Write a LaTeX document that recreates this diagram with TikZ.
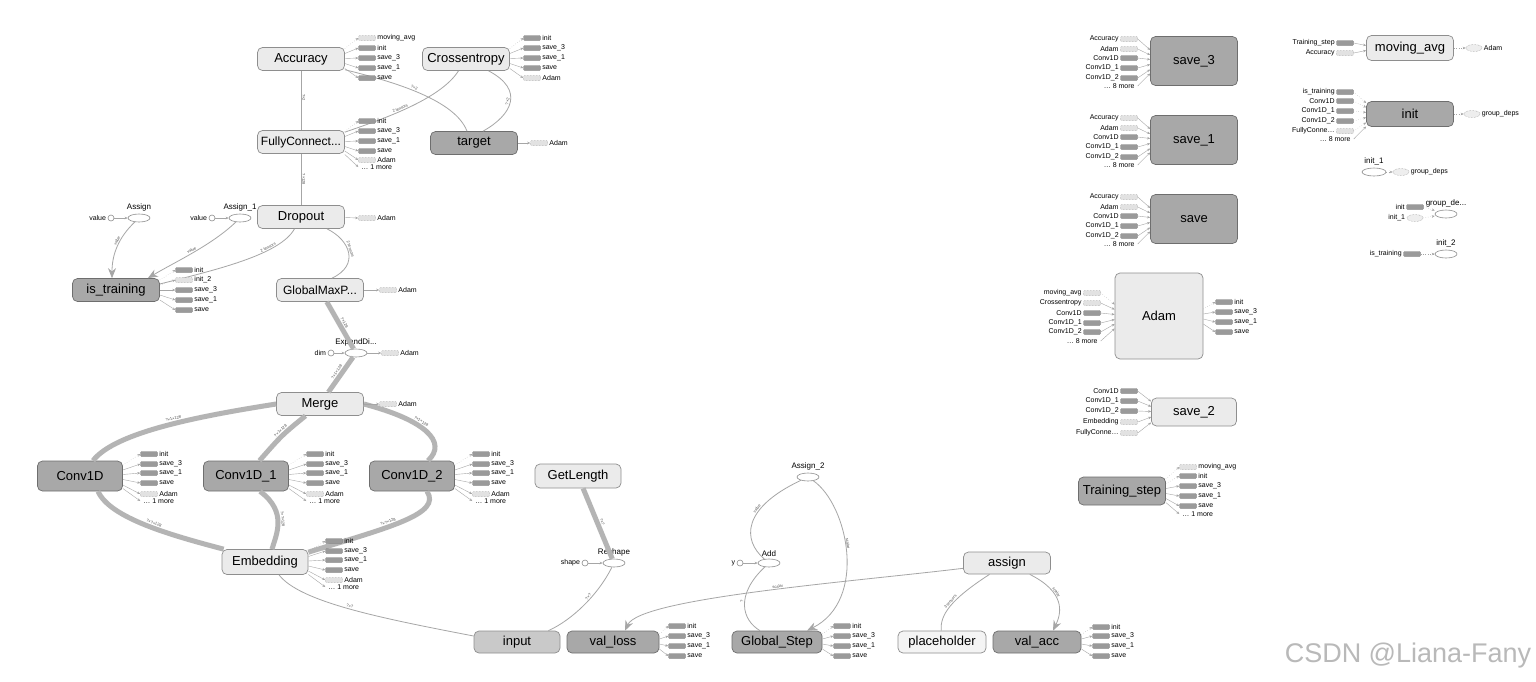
\documentclass[tikz,border=0pt]{standalone}
\usepackage{fontspec}
\setmainfont{Liberation Sans}
\usetikzlibrary{positioning,calc,arrows.meta,shapes.geometric}

\definecolor{lightFill}{HTML}{EBEBEB}
\definecolor{darkFill}{HTML}{A8A8A8}
\definecolor{midFill}{HTML}{C9C9C9}
\definecolor{paleFill}{HTML}{F4F4F4}
\definecolor{borderGrey}{HTML}{8E8E8E}
\definecolor{darkBorder}{HTML}{6E6E6E}
\definecolor{edgeGrey}{HTML}{A6A6A6}
\definecolor{thickGrey}{HTML}{B4B4B4}
\definecolor{auxGrey}{HTML}{9A9A9A}
\definecolor{auxPale}{HTML}{E2E2E2}

\tikzset{
  grp/.style={rectangle, rounded corners=5pt, draw=borderGrey, line width=0.7pt,
    minimum width=87pt, minimum height=23pt, inner sep=0pt,
    font=\fontsize{13}{15}\selectfont, fill=lightFill},
  grpDark/.style={grp, fill=darkFill, draw=darkBorder},
  grpMid/.style={grp, fill=midFill},
  grpPale/.style={grp, fill=paleFill},
  grpLong/.style={grp, font=\fontsize{12}{14}\selectfont},
  opNode/.style={ellipse, draw=borderGrey, fill=white, line width=0.6pt,
    minimum width=22pt, minimum height=8pt, inner sep=0pt},
  opText/.style={font=\fontsize{8}{9}\selectfont, inner sep=1pt},
  constNode/.style={circle, draw=borderGrey, fill=white, line width=0.6pt,
    inner sep=0pt, minimum size=6pt},
  auxBox/.style={rectangle, rounded corners=1pt, minimum width=17pt,
    minimum height=5pt, inner sep=0pt},
  auxFill/.style={auxBox, fill=auxGrey, draw=auxGrey!80!black, line width=0.3pt},
  auxDash/.style={auxBox, fill=auxPale, draw=gray!75, densely dotted, line width=0.5pt},
  auxEll/.style={ellipse, minimum width=16pt, minimum height=7pt, inner sep=0pt,
    fill=auxPale!60, draw=gray!75, densely dotted, line width=0.5pt},
  auxMore/.style={minimum width=1pt, minimum height=5pt, inner sep=0pt, xshift=-8pt},
  auxMoreL/.style={minimum width=1pt, minimum height=5pt, inner sep=0pt, xshift=8pt},
  auxText/.style={font=\fontsize{7}{8}\selectfont, inner sep=1.5pt},
  auxLine/.style={draw=gray!70, line width=0.4pt, -{Stealth[length=3pt,width=2.5pt]}},
  edgeLine/.style={draw=edgeGrey, line width=0.8pt},
  thickLine/.style={draw=thickGrey, line width=5pt},
  bigTip/.style={-{Stealth[length=10pt,width=8pt]}},
  eLbl/.style={font=\fontsize{4}{5}\selectfont, text=black!70, sloped, inner sep=1pt, above}
}

% items hanging off the right side of a node
\newcommand{\outItems}[3]{%
  \foreach \yPos/\itemStyle/\lineStyle/\itemText [count=\n] in {#3} {
    \node[\itemStyle] (#1-o\n) at (#2,\yPos) {};
    \node[auxText, anchor=west] (#1-ot\n) at (#1-o\n.east) {\itemText};
    \draw[auxLine, \lineStyle] ($(#1.east)!0.5!(#1.east |- #1-o\n)$) -- (#1-o\n.west);
  }%
}
% items feeding the left side of a node
\newcommand{\inItems}[3]{%
  \foreach \yPos/\itemStyle/\lineStyle/\itemText [count=\n] in {#3} {
    \node[\itemStyle] (#1-i\n) at (#2,\yPos) {};
    \node[auxText, anchor=east] (#1-it\n) at (#1-i\n.west) {\itemText};
    \draw[auxLine, \lineStyle] (#1-i\n.east) -- ($(#1.west)!0.5!(#1.west |- #1-i\n)$);
  }%
}

\begin{document}
\begin{tikzpicture}[x=1pt,y=-1pt]
  % Canvas
  \fill[white] (0,0) rectangle (1536,681);
  \useasboundingbox (0,0) rectangle (1536,681);

  % Main graph: group nodes
  \node[grp] (acc) at (301,59) {Accuracy};
  \node[grp] (xent) at (466,59) {Crossentropy};
  \node[grpLong] (fc) at (301,142) {FullyConnect...};
  \node[grpDark] (target) at (474,143) {target};
  \node[grp] (dropout) at (301,217) {Dropout};
  \node[grpDark] (istrain) at (116,290) {is\_training};
  \node[grpLong] (gmp) at (320,290) {GlobalMaxP...};
  \node[grp] (merge) at (320,404) {Merge};
  \node[grpDark, minimum width=85pt, minimum height=30pt] (conv) at (80,476) {Conv1D};
  \node[grpDark, minimum width=85pt, minimum height=30pt] (conva) at (246,476) {Conv1D\_1};
  \node[grpDark, minimum width=85pt, minimum height=30pt] (convb) at (412,476) {Conv1D\_2};
  \node[grp, minimum width=86pt, minimum height=25pt] (embed) at (265,562) {Embedding};
  \node[grp, minimum width=86pt, minimum height=24pt] (getlen) at (578,476) {GetLength};
  \node[grp, minimum height=22pt] (assign) at (1007,563) {assign};
  \node[grpMid, minimum width=86pt, minimum height=22pt] (input) at (517,642) {input};
  \node[grpDark, minimum width=92pt, minimum height=22pt] (valLoss) at (613,642) {val\_loss};
  \node[grpDark, minimum width=90pt, minimum height=22pt] (gStep) at (777,642) {Global\_Step};
  \node[grpPale, minimum width=88pt, minimum height=22pt] (placeholder) at (942,642) {placeholder};
  \node[grpDark, minimum width=88pt, minimum height=22pt] (valAcc) at (1037,642) {val\_acc};

  % Main graph: op nodes and constants
  \node[opNode] (asg) at (139,218) {};
  \node[opText, above=1pt] (asgT) at (asg.north) {Assign};
  \node[opNode] (asgOne) at (240,218) {};
  \node[opText, above=1pt] (asgOneT) at (asgOne.north) {Assign\_1};
  \node[opNode] (expand) at (356,353) {};
  \node[opText, above=1pt] (expandT) at (expand.north) {ExpandDi...};
  \node[opNode] (reshape) at (614,563) {};
  \node[opText, above=1pt] (reshapeT) at (reshape.north) {Reshape};
  \node[opNode] (add) at (769,563) {};
  \node[opText, above=1pt] (addT) at (add.north) {Add};
  \node[opNode] (assignTwo) at (808,477) {};
  \node[opText, above=1pt] (assignTwoT) at (assignTwo.north) {Assign\_2};

  \node[constNode] (asgC) at (111,218) {};
  \node[auxText, anchor=east] (asgCT) at (asgC.west) {value};
  \node[constNode] (asgOneC) at (212,218) {};
  \node[auxText, anchor=east] (asgOneCT) at (asgOneC.west) {value};
  \node[constNode] (dimC) at (331,353) {};
  \node[auxText, anchor=east] (dimCT) at (dimC.west) {dim};
  \node[constNode] (shapeC) at (585,563) {};
  \node[auxText, anchor=east] (shapeCT) at (shapeC.west) {shape};
  \node[constNode] (yC) at (740,563) {};
  \node[auxText, anchor=east] (yCT) at (yC.west) {y};
  \foreach \c/\o in {asgC/asg, asgOneC/asgOne, dimC/expand, shapeC/reshape, yC/add}
    \draw[auxLine] (\c) -- (\o);

  % Main graph: thin edges
  \draw[edgeLine] (acc) -- node[eLbl, pos=0.45] {?×2} (fc);
  \draw[edgeLine] (fc) -- node[eLbl] {?×128} (dropout);
  \draw[edgeLine] (acc) .. controls (395,82) and (455,100) .. node[eLbl, pos=0.45] {?×2} ($(target.north)+(-7,0)$);
  \draw[edgeLine] (xent) .. controls (440,100) and (380,120) .. node[eLbl, pos=0.55] {2 tensors} ($(fc.north east)+(0,2)$);
  \draw[edgeLine] (xent) .. controls (525,90) and (512,115) .. node[eLbl, pos=0.5] {?×2} ($(target.north)+(9,0)$);
  \draw[edgeLine, bigTip] (asg) .. controls (118,238) and (112,255) .. node[eLbl, pos=0.4] {value} ($(istrain.north)+(-4,0)$);
  \draw[edgeLine, bigTip] (asgOne) .. controls (212,245) and (175,262) .. node[eLbl, pos=0.5] {value} ($(istrain.north east)+(-12,0)$);
  \draw[edgeLine] (dropout) .. controls (280,255) and (215,270) .. node[eLbl, pos=0.3] {2 tensors} ($(istrain.east)+(0,-6)$);
  \draw[edgeLine] ($(dropout.south)+(26,0)$) .. controls (350,240) and (360,265) .. node[eLbl, pos=0.45] {2 tensors} ($(gmp.north)+(12,0)$);
  \draw[edgeLine] ($(embed.south)+(14,0)$) .. controls (300,602) and (380,618) .. node[eLbl, pos=0.5] {?×?} ($(input.west)+(0,-6)$);
  \draw[edgeLine] (reshape) .. controls (598,595) and (572,620) .. node[eLbl, pos=0.4] {?×?} ($(input.north east)+(-12,0)$);
  \draw[edgeLine] (assignTwo) .. controls (742,508) and (742,540) .. node[eLbl, pos=0.35] {value} (add);
  \draw[edgeLine, bigTip] (assignTwo) .. controls (848,505) and (868,600) .. node[eLbl, pos=0.45] {scalar} ($(gStep.north)+(30,0)$);
  \draw[edgeLine] (add) .. controls (735,595) and (742,620) .. node[eLbl, pos=0.45] {?} ($(gStep.north)+(-17,0)$);
  \draw[edgeLine, bigTip] (assign) .. controls (850,582) and (640,598) .. node[eLbl, pos=0.45] {scalar} ($(valLoss.north)+(12,0)$);
  \draw[edgeLine] (assign) .. controls (950,600) and (940,615) .. node[eLbl, pos=0.45] {3 tensors} (placeholder);
  \draw[edgeLine, bigTip] (assign) .. controls (1065,592) and (1062,612) .. node[eLbl, pos=0.35] {scalar} ($(valAcc.north)+(16,0)$);

  % Main graph: thick edges
  \draw[thickLine] (gmp) -- node[eLbl] {?×128} (expand);
  \draw[thickLine] (expand) -- node[eLbl] {?×1×128} (merge);
  \draw[thickLine] (merge.west) .. controls (200,416) and (115,432) .. node[eLbl, pos=0.45] {?×1×128} ($(conv.north)+(13,0)$);
  \draw[thickLine] (merge) .. controls (282,435) .. node[eLbl, pos=0.45] {?×1×128} (conva);
  \draw[thickLine] (merge.east) .. controls (425,420) and (448,442) .. node[eLbl, pos=0.4] {?×1×128} ($(convb.north)+(16,0)$);
  \draw[thickLine] ($(conv.south)+(18,0)$) .. controls (110,518) and (170,535) .. node[eLbl, pos=0.55] {?×?×128} ($(embed.north west)+(2,0)$);
  \draw[thickLine] ($(conva.south)+(14,0)$) .. controls (288,512) and (276,535) .. node[eLbl, pos=0.45] {?×?×128} ($(embed.north)+(7,0)$);
  \draw[thickLine] ($(convb.south)+(15,0)$) .. controls (442,514) and (390,527) .. node[eLbl, pos=0.6] {?×?×128} ($(embed.north east)+(0,3)$);
  \draw[thickLine] (getlen) -- node[eLbl, pos=0.5] {?×?} (reshape);

  % Main graph: attached items
  \outItems{acc}{367}{38/auxDash/dotted/moving\_avg, 48/auxFill/solid/init, 58/auxFill/solid/save\_3, 68/auxFill/solid/save\_1, 78/auxFill/solid/save}
  \outItems{xent}{532}{38/auxFill/dotted/init, 48/auxFill/solid/save\_3, 58/auxFill/solid/save\_1, 68/auxFill/solid/save, 78/auxDash/solid/Adam}
  \outItems{fc}{367}{121/auxFill/dotted/init, 131/auxFill/solid/save\_3, 141/auxFill/solid/save\_1, 151/auxFill/solid/save, 160/auxDash/solid/Adam, 167/auxMore/solid/{\ldots{} 1 more}}
  \outItems{target}{539}{143/auxDash/solid/Adam}
  \outItems{dropout}{367}{218/auxDash/solid/Adam}
  \outItems{istrain}{184}{270/auxFill/dotted/init, 280/auxDash/dotted/init\_2, 290/auxFill/solid/save\_3, 300/auxFill/solid/save\_1, 310/auxFill/solid/save}
  \outItems{gmp}{388}{290/auxDash/solid/Adam}
  \outItems{expand}{390}{353/auxDash/solid/Adam}
  \outItems{merge}{388}{404/auxDash/solid/Adam}
  \foreach \cv/\cx in {conv/149, conva/315, convb/481}
    \outItems{\cv}{\cx}{454/auxFill/dotted/init, 464/auxFill/solid/save\_3, 473/auxFill/solid/save\_1, 483/auxFill/solid/save, 494/auxDash/solid/Adam, 501/auxMore/solid/{\ldots{} 1 more}};
  \outItems{embed}{334}{541/auxFill/dotted/init, 551/auxFill/solid/save\_3, 560/auxFill/solid/save\_1, 570/auxFill/solid/save, 580/auxDash/solid/Adam, 587/auxMore/solid/{\ldots{} 1 more}}
  \outItems{valLoss}{677}{626/auxFill/dotted/init, 636/auxFill/solid/save\_3, 646/auxFill/solid/save\_1, 656/auxFill/solid/save}
  \outItems{gStep}{842}{626/auxFill/dotted/init, 636/auxFill/solid/save\_3, 646/auxFill/solid/save\_1, 656/auxFill/solid/save}
  \outItems{valAcc}{1101}{627/auxFill/dotted/init, 636/auxFill/solid/save\_3, 646/auxFill/solid/save\_1, 656/auxFill/solid/save}

  % Auxiliary nodes (right side)
  \node[grpDark, minimum height=49pt] (save3) at (1194,61) {save\_3};
  \node[grpDark, minimum height=49pt] (save1) at (1194,140) {save\_1};
  \node[grpDark, minimum height=49pt] (saveN) at (1194,219) {save};
  \node[grp, minimum width=88pt, minimum height=86pt] (adam) at (1159,316) {Adam};
  \node[grp, minimum width=85pt, minimum height=28pt] (save2) at (1194,412) {save\_2};
  \node[grpDark, minimum height=28pt] (trainStep) at (1122,491) {Training\_step};
  \node[grp, minimum height=25pt] (movAvg) at (1410,48) {moving\_avg};
  \node[grpDark, minimum height=25pt] (init) at (1410,114) {init};
  \node[opNode, minimum width=24pt] (initOne) at (1374,172) {};
  \node[opText, above=1pt] (initOneT) at (initOne.north) {init\_1};
  \node[opNode] (groupDeps) at (1446,214) {};
  \node[opText, above=1pt] (groupDepsT) at (groupDeps.north) {group\_de...};
  \node[opNode] (initTwo) at (1446,254) {};
  \node[opText, above=1pt] (initTwoT) at (initTwo.north) {init\_2};

  \foreach \sv/\dy in {save3/0, save1/79, saveN/158}
    \inItems{\sv}{1129}{39+\dy/auxDash/solid/Accuracy, 49+\dy/auxDash/solid/Adam, 58+\dy/auxFill/solid/Conv1D, 68+\dy/auxFill/solid/Conv1D\_1, 78+\dy/auxFill/solid/Conv1D\_2, 86+\dy/auxMoreL/solid/{\ldots{} 8 more}};
  \inItems{adam}{1092}{293/auxDash/dotted/moving\_avg, 303/auxDash/solid/Crossentropy, 313/auxFill/solid/Conv1D, 323/auxFill/solid/Conv1D\_1, 332/auxFill/solid/Conv1D\_2, 341/auxMoreL/solid/{\ldots{} 8 more}}
  \outItems{adam}{1224}{302/auxFill/dotted/init, 312/auxFill/solid/save\_3, 322/auxFill/solid/save\_1, 332/auxFill/solid/save}
  \inItems{save2}{1129}{391/auxFill/solid/Conv1D, 401/auxFill/solid/Conv1D\_1, 411/auxFill/solid/Conv1D\_2, 422/auxDash/solid/Embedding, 433/auxDash/solid/{FullyConne\ldots}}
  \outItems{trainStep}{1188}{467/auxDash/dotted/moving\_avg, 476/auxFill/dotted/init, 486/auxFill/solid/save\_3, 496/auxFill/solid/save\_1, 506/auxFill/solid/save, 514/auxMore/solid/{\ldots{} 1 more}}
  \inItems{movAvg}{1345}{43/auxFill/solid/Training\_step, 53/auxDash/solid/Accuracy}
  \outItems{movAvg}{1474}{48/auxEll/dotted/Adam}
  \inItems{init}{1345}{92/auxFill/dotted/is\_training, 101/auxFill/dotted/Conv1D, 111/auxFill/dotted/Conv1D\_1, 121/auxFill/dotted/Conv1D\_2, 131/auxDash/dotted/{FullyConne\ldots}, 139/auxMoreL/solid/{\ldots{} 8 more}}
  \outItems{init}{1472}{114/auxEll/dotted/group\_deps}
  \outItems{initOne}{1401}{172/auxEll/dotted/group\_deps}
  \inItems{groupDeps}{1415}{207/auxFill/dotted/init, 218/auxEll/dotted/init\_1}
  \inItems{initTwo}{1412}{254/auxFill/dotted/is\_training}

  % Watermark
  \node[font=\fontsize{27}{30}\selectfont, text=gray!55] (mark) at (1408,656) {CSDN @Liana-Fany};
\end{tikzpicture}
\end{document}
